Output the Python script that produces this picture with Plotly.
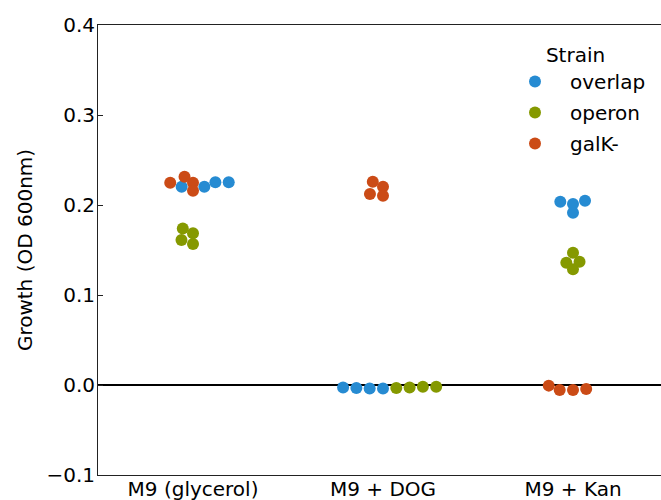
import numpy as np
import plotly.graph_objects as go

# ---------------- data ----------------
conditions = ["M9 (glycerol)", "M9 + DOG", "M9 + Kan"]
strains = ["overlap", "operon", "galK-"]

overlap_growth = [
    [0.2204, 0.2204, 0.2252, 0.2252],
    [-0.0040, -0.0040, -0.00325, -0.00265],
    [0.2011, 0.2037, 0.2048, 0.1914],
]
operon_growth = [
    [0.1740, 0.1685, 0.1610, 0.1567],
    [-0.0034, -0.0028, -0.0019, -0.0019],
    [0.1470, 0.1359, 0.1370, 0.1285],
]
galk_growth = [
    [0.2248, 0.2314, 0.2248, 0.2159],
    [0.2259, 0.2204, 0.2122, 0.2104],
    [-0.0007, -0.0056, -0.0056, -0.0044],
]
y_ticks = [-0.1, 0.0, 0.1, 0.2, 0.3, 0.4]

series = {"overlap": overlap_growth, "operon": operon_growth, "galK-": galk_growth}
colors = {"overlap": "#268bd2", "operon": "#859900", "galK-": "#cb4b16"}

# ---------------- layout constants ----------------
W, H = 661, 500
ML, MR, MT, MB = 98, 0, 25, 25
x_range = [-0.5, -0.5 + (W - ML - MR) / 190.0]
y_range = [-0.1, 0.4]
px_x = (W - ML - MR) / (x_range[1] - x_range[0])
px_y = (H - MT - MB) / (y_range[1] - y_range[0])

MARKER = 12
SWARM_D = 12.7        # collision diameter (px)
SWARM_ASPECT = 1.65   # vertical scaling used while laying out the swarm


def beeswarm(yvals, d, sy):
    """seaborn-like beeswarm; returns horizontal pixel offsets."""
    yvals = np.asarray(yvals, dtype=float)
    order = np.argsort(yvals, kind="stable")
    ys = yvals[order] * sy
    placed = []
    for y in ys:
        if not placed:
            placed.append((0.0, y))
            continue
        neigh = []
        for xj, yj in reversed(placed):
            if (y - yj) < d:
                neigh.append((xj, yj))
            else:
                break
        neigh = neigh[::-1]
        cands = [0.0]
        left_first = True
        for xj, yj in neigh:
            dy = y - yj
            dx = np.sqrt(max(d * d - dy * dy, 0.0)) * 1.05
            pair = [xj - dx, xj + dx] if left_first else [xj + dx, xj - dx]
            cands.extend(pair)
            left_first = not left_first
        cands = sorted(cands, key=abs)
        chosen = cands[-1]
        for c in cands:
            if all((c - xj) ** 2 + (y - yj) ** 2 >= d * d - 1e-9 for xj, yj in neigh):
                chosen = c
                break
        placed.append((chosen, y))
    out = np.empty(len(yvals))
    out[order] = [p[0] for p in placed]
    return out


# compute swarm positions per condition (all strains together)
xs = {s: [] for s in strains}
ys = {s: [] for s in strains}
for ci, cond in enumerate(conditions):
    vals, labs = [], []
    for s in strains:
        vals += series[s][ci]
        labs += [s] * len(series[s][ci])
    offs = beeswarm(vals, SWARM_D, px_y * SWARM_ASPECT)
    for v, l, o in zip(vals, labs, offs):
        xs[l].append(ci + o / px_x)
        ys[l].append(v)

fig = go.Figure()
for s in strains:
    fig.add_trace(go.Scatter(
        x=xs[s], y=ys[s], mode="markers", name=s, legendgroup=s,
        marker=dict(size=MARKER, color=colors[s], line=dict(width=0)),
    ))

font = dict(family="DejaVu Sans", size=20, color="black")
fig.update_layout(
    width=W, height=H,
    margin=dict(l=ML, r=MR, t=MT, b=MB, autoexpand=False),
    paper_bgcolor="white", plot_bgcolor="white",
    font=font,
    showlegend=True,
    legend=dict(
        title=dict(text="Strain", side="top center", font=font),
        x=(500 - ML) / (W - ML - MR), xanchor="left",
        y=1.0 - 11 / (H - MT - MB), yanchor="top",
        bgcolor="rgba(0,0,0,0)", borderwidth=0,
        itemwidth=60, tracegroupgap=2,
        font=font,
    ),
    xaxis=dict(
        range=x_range, tickmode="array", tickvals=list(range(len(conditions))),
        ticktext=conditions, ticks="", showgrid=False, zeroline=False,
        ticklabelstandoff=-4,
        showline=True, linecolor="#222", linewidth=1, mirror=True,
        tickfont=font,
    ),
    yaxis=dict(
        range=y_range, tickmode="array", tickvals=y_ticks, tickformat=".1f",
        ticks="inside", ticklen=5, tickwidth=1, tickcolor="#222",
        ticklabelstandoff=-2,
        showgrid=False, showline=True, linecolor="#222", linewidth=1,
        zeroline=True, zerolinecolor="black", zerolinewidth=2,
        title=dict(text="Growth (OD 600nm)", font=font, standoff=8),
        tickfont=font,
    ),
)

fig.write_html(
    "out.html",
    config={"displayModeBar": False},
    post_script="document.body.style.margin='0';document.body.style.overflow='hidden';",
)
